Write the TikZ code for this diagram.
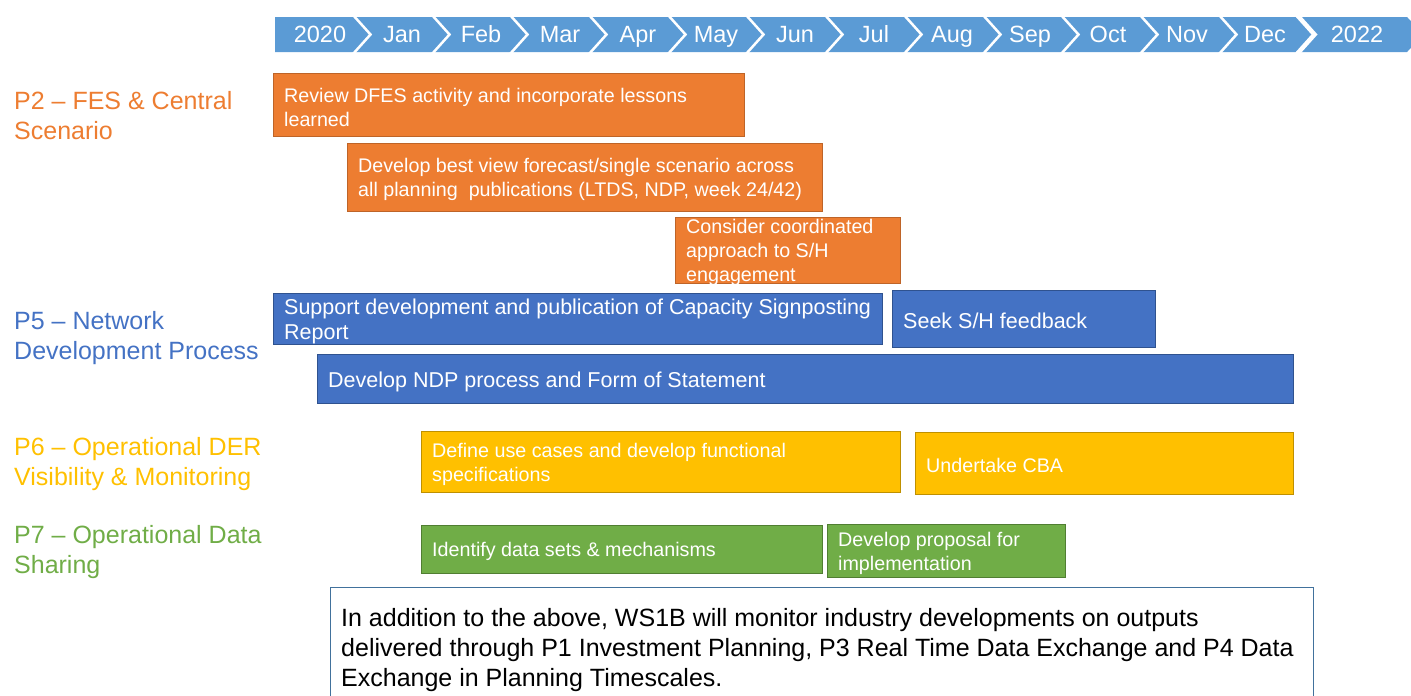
\documentclass[tikz,border=0pt]{standalone}
\usepackage{fontspec}
\setmainfont{Liberation Sans}
\definecolor{hdr}{HTML}{5B9BD5}
\definecolor{org}{HTML}{ED7D31}
\definecolor{orgd}{HTML}{BE6428}
\definecolor{blu}{HTML}{4472C4}
\definecolor{blud}{HTML}{2F528F}
\definecolor{yel}{HTML}{FFC000}
\definecolor{yeld}{HTML}{BF9000}
\definecolor{grn}{HTML}{70AD47}
\definecolor{grnd}{HTML}{507E32}
\definecolor{bbord}{HTML}{41719C}
\tikzset{
  bar/.style={draw, line width=1.3pt, anchor=north west, inner sep=0pt},
  bartext/.style={anchor=west, inner sep=0pt, align=left, text=white,
    font=\fontsize{19.7}{24}\selectfont, xshift=11pt, yshift=-2pt},
  bigbartext/.style={bartext, font=\fontsize{21.5}{25}\selectfont},
  hlab/.style={text=white, inner sep=0pt, anchor=base, font=\fontsize{23.5}{23.5}\selectfont},
  plabel/.style={anchor=west, inner sep=0pt, align=left,
    font=\fontsize{25}{30}\selectfont},
  sep/.style={white, line width=2.5pt},
}
\begin{document}
\begin{tikzpicture}[x=1pt,y=-1pt]
\useasboundingbox (0,0) rectangle (1411,696);
% header band
\fill[hdr] (275,17) -- (1407,17) -- (1424,34.5) -- (1407,52) -- (275,52) -- cycle;
\foreach \s in {353,432,510,589,668,746,825,904,983,1061,1140,1219}
  \draw[sep] (\s,15) -- (\s+17.5,34.5) -- (\s,54);
\draw[sep, line width=4.5pt] (1297,15) -- (1314.5,34.5) -- (1297,54);
\node[hlab] (h0) at (320,42.5) {2020};
\node[hlab] (h1) at (402,42.5) {Jan};
\node[hlab] (h2) at (481,42.5) {Feb};
\node[hlab] (h3) at (560,42.5) {Mar};
\node[hlab] (h4) at (638,42.5) {Apr};
\node[hlab] (h5) at (716,42.5) {May};
\node[hlab] (h6) at (795,42.5) {Jun};
\node[hlab] (h7) at (874,42.5) {Jul};
\node[hlab] (h8) at (952,42.5) {Aug};
\node[hlab] (h9) at (1030,42.5) {Sep};
\node[hlab] (h10) at (1108,42.5) {Oct};
\node[hlab] (h11) at (1187,42.5) {Nov};
\node[hlab] (h12) at (1265,42.5) {Dec};
\node[hlab] (h13) at (1357,42.5) {2022};
% left labels
\node[plabel, text=org] (p2) at (14,116) {P2 -- FES \& Central\\Scenario};
\node[plabel, text=blu] (p5) at (14,338) {P5 -- Network\\Development Process};
\node[plabel, text=yel] (p6) at (14,464) {P6 -- Operational DER\\Visibility \& Monitoring};
\node[plabel, text=grn] (p7) at (14,552) {P7 -- Operational Data\\Sharing};
% P2 bars
\node[bar, fill=org, draw=orgd, minimum width=471pt, minimum height=63pt] (o1) at (273,73) {};
\node[bartext] (o1t) at (o1.west) {Review DFES activity and incorporate lessons\\learned};
\node[bar, fill=org, draw=orgd, minimum width=475pt, minimum height=68pt] (o2) at (347,143) {};
\node[bartext] (o2t) at (o2.west) {Develop best view forecast/single scenario across\\all planning\ \ publications (LTDS, NDP, week 24/42)};
\node[bar, fill=org, draw=orgd, minimum width=225pt, minimum height=66pt] (o3) at (675,217) {};
\node[bartext] (o3t) at (o3.west) {Consider coordinated\\approach to S/H\\engagement};
% P5 bars
\node[bar, fill=blu, draw=blud, minimum width=609pt, minimum height=51pt] (b1) at (273,293) {};
\node[bigbartext] (b1t) at (b1.west) {Support development and publication of Capacity Signposting\\Report};
\node[bar, fill=blu, draw=blud, minimum width=263pt, minimum height=57pt] (b2) at (892,290) {};
\node[bigbartext] (b2t) at (b2.west) {Seek S/H feedback};
\node[bar, fill=blu, draw=blud, minimum width=976pt, minimum height=49pt] (b3) at (317,354) {};
\node[bigbartext] (b3t) at ([yshift=-1pt]b3.west) {Develop NDP process and Form of Statement};
% P6 bars
\node[bar, fill=yel, draw=yeld, minimum width=479pt, minimum height=61pt] (y1) at (421,431) {};
\node[bartext] (y1t) at (y1.west) {Define use cases and develop functional\\specifications};
\node[bar, fill=yel, draw=yeld, minimum width=378pt, minimum height=62pt] (y2) at (915,432) {};
\node[bartext] (y2t) at (y2.west) {Undertake CBA};
% P7 bars
\node[bar, fill=grn, draw=grnd, minimum width=401pt, minimum height=48pt] (g1) at (421,525) {};
\node[bartext] (g1t) at (g1.west) {Identify data sets \& mechanisms};
\node[bar, fill=grn, draw=grnd, minimum width=238pt, minimum height=53pt] (g2) at (827,524) {};
\node[bartext] (g2t) at (g2.west) {Develop proposal for\\implementation};
% bottom note
\node[bar, fill=white, draw=bbord, line width=1.2pt, minimum width=983pt, minimum height=120pt] (nb) at (330,587) {};
\node[anchor=west, inner sep=0pt, align=left, font=\fontsize{25}{30}\selectfont, xshift=11pt] (nt) at ([yshift=-2pt]nb.west)
  {In addition to the above, WS1B will monitor industry developments on outputs\\delivered through P1 Investment Planning, P3 Real Time Data Exchange and P4 Data\\Exchange in Planning Timescales.};
\end{tikzpicture}
\end{document}
